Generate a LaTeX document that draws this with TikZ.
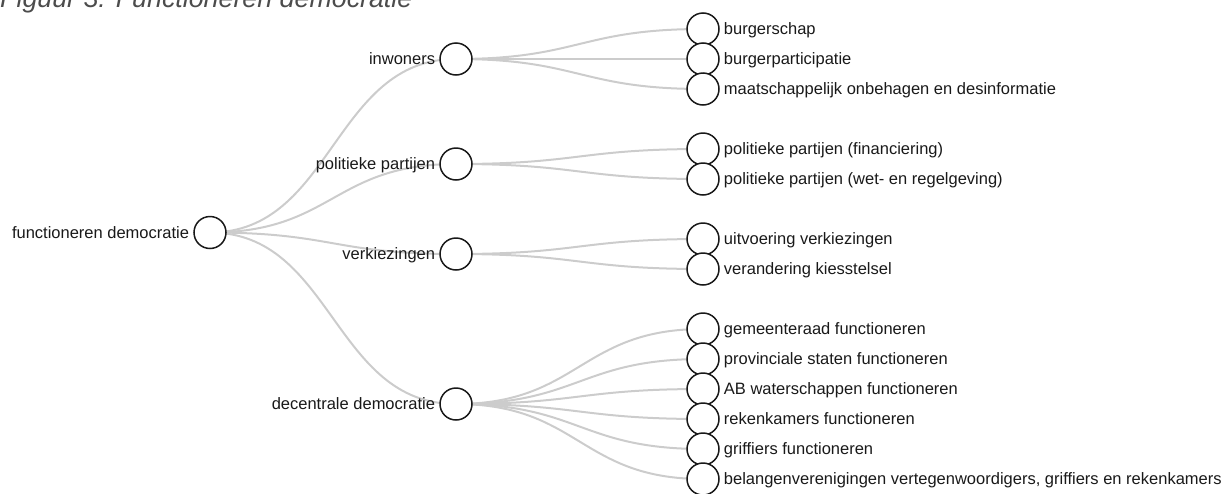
\documentclass[tikz,border=0pt]{standalone}
\usepackage{fontspec}
\setmainfont{Liberation Sans}
\usetikzlibrary{calc,backgrounds}
\tikzset{
  dot/.style={circle, draw=black!90, line width=1.5pt, fill=white, minimum size=32pt, inner sep=0pt},
  tipl/.style={font=\fontsize{16.5}{18}\selectfont, text=black!90, inner sep=0pt, anchor=base east},
  tipr/.style={font=\fontsize{16.5}{18}\selectfont, text=black!90, inner sep=0pt, anchor=base west},
  lnk/.style={draw=black!20, line width=2pt},
}
\begin{document}
\begin{tikzpicture}[x=1pt,y=-1pt]
\useasboundingbox (0,0) rectangle (1231,493);
\node[anchor=base west, inner sep=0pt, text=black!70, font=\itshape\fontsize{26.8}{30}\selectfont] (ttl) at (0,7) {Figuur 3: Functioneren democratie};
\node[dot] (nd0) at (210,232.5){};
\node[tipl] (tx0) at ($(nd0.west)+(-4,5.8)$) {functioneren democratie};
\node[dot] (nd1) at (456,59){};
\node[tipl] (tx1) at ($(nd1.west)+(-4,5.8)$) {inwoners};
\node[dot] (nd2) at (456,164){};
\node[tipl] (tx2) at ($(nd2.west)+(-4,5.8)$) {politieke partijen};
\node[dot] (nd3) at (456,254){};
\node[tipl] (tx3) at ($(nd3.west)+(-4,5.8)$) {verkiezingen};
\node[dot] (nd4) at (456,404){};
\node[tipl] (tx4) at ($(nd4.west)+(-4,5.8)$) {decentrale democratie};
\node[dot] (lf1) at (703,29){};
\node[tipr] (ty1) at ($(lf1.east)+(4,5.8)$) {burgerschap};
\node[dot] (lf2) at (703,59){};
\node[tipr] (ty2) at ($(lf2.east)+(4,5.8)$) {burgerparticipatie};
\node[dot] (lf3) at (703,89){};
\node[tipr] (ty3) at ($(lf3.east)+(4,5.8)$) {maatschappelijk onbehagen en desinformatie};
\node[dot] (lf4) at (703,149){};
\node[tipr] (ty4) at ($(lf4.east)+(4,5.8)$) {politieke partijen (financiering)};
\node[dot] (lf5) at (703,179){};
\node[tipr] (ty5) at ($(lf5.east)+(4,5.8)$) {politieke partijen (wet- en regelgeving)};
\node[dot] (lf6) at (703,239){};
\node[tipr] (ty6) at ($(lf6.east)+(4,5.8)$) {uitvoering verkiezingen};
\node[dot] (lf7) at (703,269){};
\node[tipr] (ty7) at ($(lf7.east)+(4,5.8)$) {verandering kiesstelsel};
\node[dot] (lf8) at (703,329){};
\node[tipr] (ty8) at ($(lf8.east)+(4,5.8)$) {gemeenteraad functioneren};
\node[dot] (lf9) at (703,359){};
\node[tipr] (ty9) at ($(lf9.east)+(4,5.8)$) {provinciale staten functioneren};
\node[dot] (lf10) at (703,389){};
\node[tipr] (ty10) at ($(lf10.east)+(4,5.8)$) {AB waterschappen functioneren};
\node[dot] (lf11) at (703,419){};
\node[tipr] (ty11) at ($(lf11.east)+(4,5.8)$) {rekenkamers functioneren};
\node[dot] (lf12) at (703,449){};
\node[tipr] (ty12) at ($(lf12.east)+(4,5.8)$) {griffiers functioneren};
\node[dot] (lf13) at (703,479){};
\node[tipr] (ty13) at ($(lf13.east)+(4,5.8)$) {belangenverenigingen vertegenwoordigers, griffiers en rekenkamers};
\begin{scope}[on background layer]
\draw[lnk](nd0.center) .. controls +(123,0) and +(-123,0) .. (nd1.center);
\draw[lnk](nd0.center) .. controls +(123,0) and +(-123,0) .. (nd2.center);
\draw[lnk](nd0.center) .. controls +(123,0) and +(-123,0) .. (nd3.center);
\draw[lnk](nd0.center) .. controls +(123,0) and +(-123,0) .. (nd4.center);
\draw[lnk](nd1.center) .. controls +(123,0) and +(-123,0) .. (lf1.center);
\draw[lnk](nd1.center) .. controls +(123,0) and +(-123,0) .. (lf2.center);
\draw[lnk](nd1.center) .. controls +(123,0) and +(-123,0) .. (lf3.center);
\draw[lnk](nd2.center) .. controls +(123,0) and +(-123,0) .. (lf4.center);
\draw[lnk](nd2.center) .. controls +(123,0) and +(-123,0) .. (lf5.center);
\draw[lnk](nd3.center) .. controls +(123,0) and +(-123,0) .. (lf6.center);
\draw[lnk](nd3.center) .. controls +(123,0) and +(-123,0) .. (lf7.center);
\draw[lnk](nd4.center) .. controls +(123,0) and +(-123,0) .. (lf8.center);
\draw[lnk](nd4.center) .. controls +(123,0) and +(-123,0) .. (lf9.center);
\draw[lnk](nd4.center) .. controls +(123,0) and +(-123,0) .. (lf10.center);
\draw[lnk](nd4.center) .. controls +(123,0) and +(-123,0) .. (lf11.center);
\draw[lnk](nd4.center) .. controls +(123,0) and +(-123,0) .. (lf12.center);
\draw[lnk](nd4.center) .. controls +(123,0) and +(-123,0) .. (lf13.center);
\end{scope}
\end{tikzpicture}
\end{document}
